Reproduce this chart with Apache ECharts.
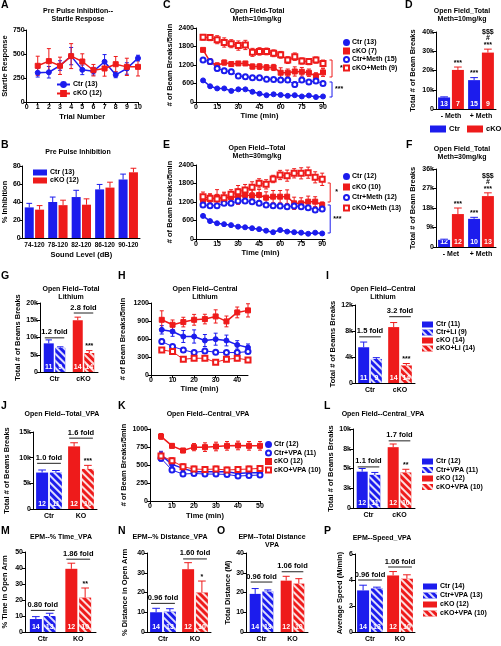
<!DOCTYPE html>
<html><head><meta charset="utf-8">
<script src="https://cdn.jsdelivr.net/npm/echarts@6/dist/echarts.min.js"></script>
<style>html,body{margin:0;padding:0;background:#fff}#c{width:501px;height:646px}</style>
</head><body><div id="c"></div>
<script>
// ---------------- DATA ----------------
// A
const A_trials = [1,2,3,4,5,6,7,8,9,10];
const A_ctr = [305,310,380,478,335,321,419,283,349,457];
const A_ctr_err = [45,60,50,90,50,40,75,30,60,30];
const A_cko = [377,426,377,478,422,331,349,394,366,366];
const A_cko_err = [100,130,90,130,80,60,80,80,90,95];
// B
const B_levels = ['74-120','78-120','82-120','86-120','90-120'];
const B_ctr = [34,40,45.5,54,65];
const B_ctr_err = [4.5,5.5,7.5,5.5,6];
const B_cko = [31.5,36.5,37,56,73];
const B_cko_err = [4.5,5.5,6.5,6,4.5];
// C
const C_time = [5,10,15,20,25,30,35,40,45,50,55,60,65,70,75,80,85,90];
const C_ctr = [700,510,440,440,360,410,410,330,270,220,250,230,200,220,180,210,160,180];
const C_ctr_err = [35,30,30,25,25,25,25,25,20,20,20,20,20,20,20,20,20,20];
const C_cko = [1690,1310,1180,1280,1230,1250,1250,1150,1150,1120,1120,950,950,990,980,950,840,960];
const C_cko_err = [40,90,90,80,70,60,60,80,90,90,100,160,120,150,140,120,110,130];
const C_ctrm = [1360,1310,1090,1010,980,840,820,790,790,740,730,710,710,570,710,650,680,600];
const C_ctrm_err = [80,70,80,80,80,70,60,60,50,50,50,50,60,80,50,60,60,60];
const C_ckom = [2100,2090,2020,1930,1890,1830,1850,1610,1640,1640,1580,1530,1360,1470,1330,1310,1360,1250];
const C_ckom_err = [90,100,130,150,130,150,150,130,120,110,110,110,110,120,100,100,100,110];
// D
const D_groups = ['- Meth','+ Meth'];
const D_ctr = [6000,15000];
const D_ctr_err = [300,1300];
const D_cko = [20300,29300];
const D_cko_err = [1500,1800];
const D_ctr_n = ['13','15'];
const D_cko_n = ['7','9'];
const D_ctr_sig = ['','***'];
const D_cko_sig = ['***','$$$\n#\n***'];
// E
const E_time = [5,10,15,20,25,30,35,40,45,50,55,60,65,70,75,80,85,90];
const E_ctr = [750,580,510,480,450,400,380,350,320,270,220,290,240,220,205,170,205,180];
const E_ctr_err = [40,35,30,30,30,30,30,30,30,30,30,30,30,30,30,30,30,30];
const E_cko = [1265,1286,1351,1319,1351,1373,1427,1405,1427,1340,1373,1373,1373,1157,1157,1211,1211,1103];
const E_cko_err = [100,150,250,200,180,250,220,200,180,190,200,200,220,200,180,180,160,100];
const E_ctrm = [1103,1081,1081,1157,1157,1232,1232,1211,1157,1103,1081,1070,1049,1070,1049,1016,940,973];
const E_ctrm_err = [60,60,60,60,60,60,60,60,60,60,60,60,60,60,60,60,80,80];
const E_ckom = [1373,1319,1297,1340,1449,1535,1589,1676,1805,1773,1946,2076,2054,2130,2130,2151,2000,1935];
const E_ckom_err = [150,150,150,150,150,200,180,180,150,150,120,150,180,150,180,180,180,200];
// F
const F_groups = ['- Met','+ Meth'];
const F_ctr = [3300,13000];
const F_ctr_err = [300,700];
const F_cko = [15200,23500];
const F_cko_err = [2800,1500];
const F_ctr_n = ['12','10'];
const F_cko_n = ['12','13'];
const F_ctr_sig = ['','***'];
const F_cko_sig = ['***','$$$\n#\n***'];
// G
const G_groups = ['Ctr','cKO'];
const G_base = [8300,15000];
const G_base_err = [1000,900];
const G_drug = [7000,5500];
const G_drug_err = [300,700];
const G_base_n = ['11','14'];
const G_drug_n = ['9','14'];
const G_sig = ['','***'];
const G_fold = ['1.2 fold','2.8 fold'];
const G_fold_y = [9900,17100];
// H
const H_time = [5,10,15,20,25,30,35,40,45];
const H_ctr = [753,725,642,642,575,597,575,502,457];
const H_ctr_err = [70,80,100,110,100,100,90,70,60];
const H_ctrli = [558,474,418,374,402,380,374,374,390];
const H_ctrli_err = [40,30,30,25,25,25,25,25,25];
const H_cko = [920,837,882,920,932,976,893,1043,1077];
const H_cko_err = [150,80,80,90,80,110,90,90,110];
const H_ckoli = [418,390,262,279,279,212,262,279,251];
const H_ckoli_err = [40,40,25,30,30,30,30,40,40];
// I
const I_groups = ['Ctr','cKO'];
const I_base = [5500,8600];
const I_base_err = [800,700];
const I_drug = [3700,2700];
const I_drug_err = [200,300];
const I_base_n = ['11','14'];
const I_drug_n = ['9','14'];
const I_sig = ['','***'];
const I_fold = ['1.5 fold','3.2 fold'];
const I_fold_y = [7100,10200];
// J
const J_groups = ['Ctr','KO'];
const J_base = [7100,12200];
const J_base_err = [500,700];
const J_drug = [7100,7800];
const J_drug_err = [400,700];
const J_base_n = ['12','12'];
const J_drug_n = ['11','10'];
const J_sig = ['','***'];
const J_fold = ['1.0 fold','1.6 fold'];
const J_fold_y = [8900,13800];
// K
const K_time = [5,10,15,20,25,30,35,40,45,50];
const K_ctr = [640,509,453,406,406,406,406,383,392,392];
const K_ctr_err = [50,40,30,30,30,30,30,30,30,30];
const K_ctrv = [593,430,374,383,374,374,369,346,355,360];
const K_ctrv_err = [40,30,25,25,25,25,25,30,30,30];
const K_cko = [897,766,701,748,748,757,766,771,766,766];
const K_cko_err = [40,30,30,50,60,60,60,60,60,60];
const K_ckov = [626,560,476,444,439,444,430,439,444,453];
const K_ckov_err = [50,40,40,40,40,40,40,40,40,40];
// L
const L_groups = ['Ctr','cKO'];
const L_base = [4600,7700];
const L_base_err = [400,400];
const L_drug = [4200,4500];
const L_drug_err = [300,400];
const L_base_n = ['12','12'];
const L_drug_n = ['11','10'];
const L_sig = ['','**'];
const L_fold = ['1.1 fold','1.7 fold'];
const L_fold_y = [5200,8500];
// M
const M_groups = ['Ctr','KO'];
const M_base = [8.1,39.5];
const M_base_err = [1.5,3.5];
const M_drug = [10.0,21.5];
const M_drug_err = [1.7,6];
const M_base_n = ['14','12'];
const M_drug_n = ['13','10'];
const M_sig = ['','**'];
const M_fold = ['0.80 fold','1.86 fold'];
const M_fold_y = [13.5,45.5];
// N
const N_groups = ['Ctr','KO'];
const N_base = [10,31.8];
const N_base_err = [2,3.3];
const N_drug = [10.3,20];
const N_drug_err = [1.5,5.8];
const N_base_n = ['14','12'];
const N_drug_n = ['13','10'];
const N_sig = ['','*'];
const N_fold = ['0.96 fold','1.60 fold'];
const N_fold_y = [14.5,37];
// O
const O_groups = ['Ctr','KO'];
const O_base = [19.3,26];
const O_base_err = [2.7,2.2];
const O_drug = [20.5,24.5];
const O_drug_err = [0.8,2.5];
const O_base_n = ['14','12'];
const O_drug_n = ['13','10'];
const O_fold = ['0.96 fold','1.06 fold'];
const O_fold_y = [25.3,30.5];
// P
const P_groups = ['Ctr','KO'];
const P_base = [3.2,4.35];
const P_base_err = [0.4,0.3];
const P_drug = [3.35,4.1];
const P_drug_err = [0.1,0.3];
const P_base_n = ['14','12'];
const P_drug_n = ['13','10'];
const P_fold = ['0.96 fold','1.06 fold'];
const P_fold_y = [4.0,5.0];

// ---------------- STYLE / HELPERS ----------------
const FONT = '"Liberation Sans", Arial, sans-serif';
const BLUE = '#1c1ced', RED = '#ee1b1b';
const sfx = k => '\u200b'.repeat(k);
const STRIPE = {symbol:'rect', symbolSize:1, color:'rgba(255,255,255,0.85)', dashArrayX:[1,0], dashArrayY:[1.4,2.6], rotation:Math.PI/4};
const grids=[], xAxes=[], yAxes=[], series=[], legends=[], graphics=[];
const TXT = {color:'#000', fontSize:7, fontWeight:'bold', fontFamily:FONT};
const NAME = {color:'#000', fontSize:7.5, fontWeight:'bold', fontFamily:FONT};
const LINE = {show:true, onZero:false, lineStyle:{color:'#000', width:1}};
const TICK = {show:true, length:3, lineStyle:{color:'#000', width:1}};
const plain = v => String(v);

function addGrid(box, xa, ya){ const i=grids.length; grids.push(Object.assign({containLabel:false}, box)); xAxes.push(Object.assign({gridIndex:i}, xa)); yAxes.push(Object.assign({gridIndex:i}, ya)); return i; }
function vAxis(min,max,interval,name,nameGap,fmt,hideMax){
  return {type:'value',min,max,interval,name,nameLocation:'middle',nameGap,nameTextStyle:NAME,
    axisLine:LINE,axisTick:TICK,axisLabel:Object.assign({},TXT,{margin:2,formatter:fmt||plain,showMaxLabel:!hideMax}),splitLine:{show:false}};
}
function cAxis(data,name,nameGap,fs){
  return {type:'category',data,name,nameLocation:'middle',nameGap,nameTextStyle:NAME,axisLine:LINE,axisTick:{show:false},
    axisLabel:Object.assign({},TXT,{margin:4,interval:0,fontSize:fs||7})};
}
const kfmt = v => v===0 ? '0' : (v/1000)+'k';
const krnd = v => v===0 ? '0' : Math.round(v/1000)+'k';

function text(x,y,t,opt){ graphics.push({type:'text',x,y,silent:true,style:Object.assign({text:t,fill:'#000',fontSize:7,fontWeight:'bold',fontFamily:FONT,align:'center',verticalAlign:'top',lineHeight:8},opt||{})}); }
function letter(x,y,t){ text(x,y,t,{fontSize:10.5,align:'left'}); }

function errLineRender(color){
  return function(p, api){
    const x=api.value(0), y=api.value(1), e=api.value(2);
    const t=api.coord([x,y+e]), b=api.coord([x,y-e]); const w=2;
    const st={stroke:color,lineWidth:1};
    return {type:'group',children:[
      {type:'line',shape:{x1:t[0],y1:t[1],x2:b[0],y2:b[1]},style:st},
      {type:'line',shape:{x1:t[0]-w,y1:t[1],x2:t[0]+w,y2:t[1]},style:st},
      {type:'line',shape:{x1:b[0]-w,y1:b[1],x2:b[0]+w,y2:b[1]},style:st}]};
  };
}
function lineSeries(gi,name,times,vals,errs,color,symbol,width){
  series.push({type:'custom',xAxisIndex:gi,yAxisIndex:gi,silent:true,clip:false,z:2,
    data:times.map((t,i)=>[t,vals[i],errs[i]]),renderItem:errLineRender(color)});
  series.push({type:'line',name,xAxisIndex:gi,yAxisIndex:gi,data:times.map((t,i)=>[t,vals[i]]),
    symbol,symbolSize:5,showSymbol:true,itemStyle:{color,borderColor:color,borderWidth:1},
    lineStyle:{color,width:width||1},z:3,silent:true});
}
function barErrSeries(gi,barW,items){
  series.push({type:'custom',xAxisIndex:gi,yAxisIndex:gi,silent:true,clip:false,z:5,
    data:items.map(it=>[it.ci,it.v,it.e,it.slot]),
    renderItem:function(p,api){
      const it=items[p.dataIndex];
      const ci=api.value(0),v=api.value(1),e=api.value(2),slot=api.value(3);
      const off=slot*barW*1.15/2;
      const p0=api.coord([ci,v]), p1=api.coord([ci,v+e]); const x=p0[0]+off;
      const st={stroke:it.color,lineWidth:1}; const ch=[];
      ch.push({type:'line',shape:{x1:x,y1:p0[1],x2:x,y2:p1[1]},style:st});
      ch.push({type:'line',shape:{x1:x-barW*0.32,y1:p1[1],x2:x+barW*0.32,y2:p1[1]},style:st});
      if(it.sig) ch.push({type:'text',x:x,y:p1[1]-1,style:{text:it.sig,align:'center',verticalAlign:'bottom',fill:'#000',fontSize:7,fontWeight:'bold',fontFamily:FONT,lineHeight:6.5}});
      return {type:'group',children:ch};
    }});
}
function foldSeries(gi,barW,labels,ys){
  series.push({type:'custom',xAxisIndex:gi,yAxisIndex:gi,silent:true,clip:false,z:5,
    data:ys.map((y,i)=>[i,y]),
    renderItem:function(p,api){
      const pt=api.coord([api.value(0),api.value(1)]); const half=barW*1.15/2+barW/2-1;
      return {type:'group',children:[
        {type:'line',shape:{x1:pt[0]-half,y1:pt[1],x2:pt[0]+half,y2:pt[1]},style:{stroke:'#222',lineWidth:1}},
        {type:'text',x:pt[0],y:pt[1]-1.5,style:{text:labels[p.dataIndex],align:'center',verticalAlign:'bottom',fill:'#000',fontSize:7.5,fontWeight:'bold',fontFamily:FONT}}]};
    }});
}
function nLabel(arr){ return {show:true,position:'insideBottom',distance:1,color:'#fff',fontSize:7,fontWeight:'bold',fontFamily:FONT,formatter:p=>arr[p.dataIndex]}; }
function pairBars(gi,barW,names,v1,e1,v2,e2,n1,n2,s1,s2){
  series.push({type:'bar',name:names[0],xAxisIndex:gi,yAxisIndex:gi,barWidth:barW,barGap:'15%',data:v1,itemStyle:{color:BLUE},label:n1?nLabel(n1):{show:false},z:2,silent:true});
  series.push({type:'bar',name:names[1],xAxisIndex:gi,yAxisIndex:gi,barWidth:barW,barGap:'15%',data:v2,itemStyle:{color:RED},label:n2?nLabel(n2):{show:false},z:2,silent:true});
  const items=[];
  v1.forEach((v,i)=>items.push({ci:i,v,e:e1[i],slot:-1,color:BLUE,sig:s1?s1[i]:''}));
  v2.forEach((v,i)=>items.push({ci:i,v,e:e2[i],slot:1,color:RED,sig:s2?s2[i]:''}));
  barErrSeries(gi,barW,items);
}
function quadBars(gi,barW,names,base,baseErr,drug,drugErr,nBase,nDrug,sig,folds,foldY){
  const cols=[BLUE,RED];
  const mk=(name,vals,n,ci,striped)=>({type:'bar',name,xAxisIndex:gi,yAxisIndex:gi,stack:(striped?'d':'s')+gi,
    barWidth:barW,barGap:'15%',data:vals.map((v,i)=>i===ci?v:'-'),
    itemStyle:striped?{color:cols[ci],decal:STRIPE}:{color:cols[ci]},
    label:{show:true,position:'insideBottom',distance:1,color:'#fff',fontSize:7,fontWeight:'bold',fontFamily:FONT,formatter:()=>n[ci]},z:2,silent:true});
  series.push(mk(names[0],base,nBase,0,false));
  series.push(mk(names[1],drug,nDrug,0,true));
  series.push(mk(names[2],base,nBase,1,false));
  series.push(mk(names[3],drug,nDrug,1,true));
  const items=[];
  base.forEach((v,i)=>items.push({ci:i,v,e:baseErr[i],slot:-1,color:cols[i],sig:''}));
  drug.forEach((v,i)=>items.push({ci:i,v,e:drugErr[i],slot:1,color:cols[i],sig:sig?sig[i]:''}));
  barErrSeries(gi,barW,items);
  if(folds) foldSeries(gi,barW,folds,foldY);
}
function bracketSeries(gi,xv,list){
  series.push({type:'custom',xAxisIndex:gi,yAxisIndex:gi,silent:true,clip:false,z:5,
    data:list.map(b=>[xv,b.y1,b.y2]),
    renderItem:function(p,api){
      const b=list[p.dataIndex];
      const a=api.coord([api.value(0),api.value(1)]), c=api.coord([api.value(0),api.value(2)]); const x=a[0];
      return {type:'group',children:[
        {type:'polyline',shape:{points:[[x-2.5,a[1]],[x,a[1]],[x,c[1]],[x-2.5,c[1]]]},style:{stroke:b.color,fill:null,lineWidth:1}},
        {type:'text',x:x+b.dx,y:(a[1]+c[1])/2,style:{text:b.text,align:'left',verticalAlign:'middle',fill:'#000',fontSize:7,fontWeight:'bold',fontFamily:FONT}}]};
    }});
}
function legend(opt, names){
  legends.push(Object.assign({orient:'vertical',padding:0,selectedMode:false,itemGap:1,
    textStyle:Object.assign({},TXT,{padding:[0,0,0,-2]}),data:names},opt));
}

// ---------------- PANELS ----------------
// A
let g = addGrid({left:25,top:30,width:113,height:72},
  vAxis(0,10,1,'Trial Number',11), vAxis(0,750,250,'Startle Response',13));
lineSeries(g,'Ctr (13)'+sfx(1),A_trials,A_ctr,A_ctr_err,BLUE,'circle',1.5);
lineSeries(g,'cKO (12)'+sfx(1),A_trials,A_cko,A_cko_err,RED,'rect',1.5);
legend({left:56,top:81,itemWidth:13,itemHeight:6,itemGap:2},['Ctr (13)'+sfx(1),'cKO (12)'+sfx(1)]);
letter(1,1,'A'); text(78,7,'Pre Pulse Inhibition--\nStartle Respose');

// B
g = addGrid({left:22,top:166,width:118,height:72},
  cAxis(B_levels,'Sound Level (dB)',13,6.5), vAxis(0,80,20,'% Inhibition',12));
pairBars(g,9,['Ctr (13)'+sfx(2),'cKO (12)'+sfx(2)],B_ctr,B_ctr_err,B_cko,B_cko_err);
legend({left:33,top:169,itemWidth:14,itemHeight:6,itemGap:1},[{name:'Ctr (13)'+sfx(2),icon:'rect'},{name:'cKO (12)'+sfx(2),icon:'rect'}]);
letter(1,141,'B'); text(78,148,'Pre Pulse Inhibition');

// C
g = addGrid({left:196,top:28,width:127,height:74},
  vAxis(0,90,15,'Time (min)',10), vAxis(0,2400,600,'# of Beam Breaks/5min',22));
lineSeries(g,'Ctr (13)'+sfx(3),C_time,C_ctr,C_ctr_err,BLUE,'circle',1.5);
lineSeries(g,'cKO (7)'+sfx(3),C_time,C_cko,C_cko_err,RED,'rect',1.5);
lineSeries(g,'Ctr+Meth (15)'+sfx(3),C_time,C_ctrm,C_ctrm_err,BLUE,'emptyCircle',1);
lineSeries(g,'cKO+Meth (9)'+sfx(3),C_time,C_ckom,C_ckom_err,RED,'emptyRect',1);
bracketSeries(g,96.4,[{y1:1362,y2:811,color:RED,text:'*',dx:8},{y1:649,y2:162,color:BLUE,text:'***',dx:3}]);
legend({left:343,top:39,itemWidth:5,itemHeight:5,itemGap:1.5},[
  {name:'Ctr (13)'+sfx(3),icon:'circle'},{name:'cKO (7)'+sfx(3),icon:'rect'},
  {name:'Ctr+Meth (15)'+sfx(3),icon:'emptyCircle'},{name:'cKO+Meth (9)'+sfx(3),icon:'emptyRect'}]);
letter(163,1,'C'); text(257,7,'Open Field-Total\nMeth=10mg/kg');

// D
g = addGrid({left:436,top:32,width:60,height:77},
  cAxis(D_groups,'',0), vAxis(0,40000,10000,'Total # of Beam Breaks',19,kfmt));
pairBars(g,12,['Ctr'+sfx(4),'cKO'+sfx(4)],D_ctr,D_ctr_err,D_cko,D_cko_err,D_ctr_n,D_cko_n,D_ctr_sig,D_cko_sig);
legend({orient:'horizontal',left:430,top:125,itemWidth:16,itemHeight:7,textStyle:Object.assign({},TXT,{fontSize:7.5,padding:[0,0,0,-2]})},[{name:'Ctr'+sfx(4),icon:'rect'}]);
legend({orient:'horizontal',left:467,top:125,itemWidth:16,itemHeight:7,textStyle:Object.assign({},TXT,{fontSize:7.5,padding:[0,0,0,-2]})},[{name:'cKO'+sfx(4),icon:'rect'}]);
letter(405,1,'D'); text(462,7,'Open Field_Total\nMeth=10mg/kg');

// E
g = addGrid({left:196,top:165,width:129,height:74},
  vAxis(0,92,15,'Time (min)',10,null,true), vAxis(0,2400,600,'# of Beam Breaks/5min',22));
lineSeries(g,'Ctr (12)'+sfx(5),E_time,E_ctr,E_ctr_err,BLUE,'circle',1.5);
lineSeries(g,'cKO (10)'+sfx(5),E_time,E_cko,E_cko_err,RED,'rect',1.5);
lineSeries(g,'Ctr+Meth (12)'+sfx(5),E_time,E_ctrm,E_ctrm_err,BLUE,'emptyCircle',1);
lineSeries(g,'cKO+Meth (13)'+sfx(5),E_time,E_ckom,E_ckom_err,RED,'emptyRect',1);
bracketSeries(g,95.7,[{y1:1816,y2:1200,color:RED,text:'*',dx:5},{y1:1103,y2:195,color:BLUE,text:'***',dx:3}]);
legend({left:343,top:173,itemWidth:5,itemHeight:5,itemGap:3.5},[
  {name:'Ctr (12)'+sfx(5),icon:'circle'},{name:'cKO (10)'+sfx(5),icon:'rect'},
  {name:'Ctr+Meth (12)'+sfx(5),icon:'emptyCircle'},{name:'cKO+Meth (13)'+sfx(5),icon:'emptyRect'}]);
letter(163,141,'E'); text(257,144,'Open Field--Total\nMeth=30mg/kg');

// F
g = addGrid({left:436,top:169,width:60,height:78},
  cAxis(F_groups,'',0), vAxis(0,36000,9000,'Total # of Beam Breaks',19,kfmt));
pairBars(g,12,['Ctr'+sfx(6),'cKO'+sfx(6)],F_ctr,F_ctr_err,F_cko,F_cko_err,F_ctr_n,F_cko_n,F_ctr_sig,F_cko_sig);
letter(406,141,'F'); text(462,145,'Open Field_Total\nMeth=30mg/kg');

// G
g = addGrid({left:40,top:303,width:58,height:69},
  cAxis(G_groups,'',0), vAxis(0,20000,5000,'Total # of Beams Breaks',17,kfmt));
quadBars(g,10,['Ctr'+sfx(7),'Ctr+Li'+sfx(7),'cKO'+sfx(7),'cKO+Li'+sfx(7)],G_base,G_base_err,G_drug,G_drug_err,G_base_n,G_drug_n,G_sig,G_fold,G_fold_y);
letter(1,272,'G'); text(71,285,'Open Field--Total\nLithium');

// H
g = addGrid({left:151,top:303,width:97,height:72},
  vAxis(0,45,10,'Time (min)',9,null,true), vAxis(0,1200,300,'# of Beam Breaks/5min',24));
lineSeries(g,'Ctr (11)'+sfx(8),H_time,H_ctr,H_ctr_err,BLUE,'circle',1.5);
lineSeries(g,'Ctr+Li (9)'+sfx(8),H_time,H_ctrli,H_ctrli_err,BLUE,'emptyCircle',1);
lineSeries(g,'cKO (14)'+sfx(8),H_time,H_cko,H_cko_err,RED,'rect',1.5);
lineSeries(g,'cKO+Li (14)'+sfx(8),H_time,H_ckoli,H_ckoli_err,RED,'emptyRect',1);
letter(118,272,'H'); text(205,285,'Open Field--Central\nLithium');

// I
g = addGrid({left:355,top:305,width:60,height:78},
  cAxis(I_groups,'',0), vAxis(0,12000,4000,'Total # of Beams Breaks',16,kfmt));
quadBars(g,11,['Ctr (11)'+sfx(9),'Ctr+Li (9)'+sfx(9),'cKO (14)'+sfx(9),'cKO+Li (14)'+sfx(9)],I_base,I_base_err,I_drug,I_drug_err,I_base_n,I_drug_n,I_sig,I_fold,I_fold_y);
legend({left:422,top:321,itemWidth:11,itemHeight:6,itemGap:1},[
  {name:'Ctr (11)'+sfx(9),icon:'rect'},{name:'Ctr+Li (9)'+sfx(9),icon:'rect'},{name:'cKO (14)'+sfx(9),icon:'rect'},{name:'cKO+Li (14)'+sfx(9),icon:'rect'}]);
letter(326,272,'I'); text(383,285,'Open Field--Central\nLithium');

// J
g = addGrid({left:33,top:432,width:64,height:77},
  cAxis(J_groups,'',0), vAxis(0,15000,5000,'Total # of Beams Breaks',22,kfmt));
quadBars(g,12,['Ctr'+sfx(10),'Ctr+VPA'+sfx(10),'KO'+sfx(10),'KO+VPA'+sfx(10)],J_base,J_base_err,J_drug,J_drug_err,J_base_n,J_drug_n,J_sig,J_fold,J_fold_y);
letter(1,402,'J'); text(62,410,'Open Field--Total_VPA');

// K
g = addGrid({left:150,top:429,width:110,height:72},
  vAxis(0,50,10,'Time (min)',11), vAxis(0,1000,250,'# of Beam Breaks/5min',22));
lineSeries(g,'Ctr (12)'+sfx(11),K_time,K_ctr,K_ctr_err,BLUE,'circle',1.5);
lineSeries(g,'Ctr+VPA (11)'+sfx(11),K_time,K_ctrv,K_ctrv_err,BLUE,'emptyCircle',1);
lineSeries(g,'cKO (12)'+sfx(11),K_time,K_cko,K_cko_err,RED,'rect',1.5);
lineSeries(g,'cKO+VPA (10)'+sfx(11),K_time,K_ckov,K_ckov_err,RED,'emptyRect',1);
legend({left:265,top:441,itemWidth:5,itemHeight:5,itemGap:1.5},[
  {name:'Ctr (12)'+sfx(11),icon:'circle'},{name:'Ctr+VPA (11)'+sfx(11),icon:'emptyCircle'},
  {name:'cKO (12)'+sfx(11),icon:'rect'},{name:'cKO+VPA (10)'+sfx(11),icon:'emptyRect'}]);
letter(118,402,'K'); text(208,410,'Open Field--Central_VPA');

// L
g = addGrid({left:353,top:429,width:62,height:79},
  cAxis(L_groups,'',0), vAxis(0,10000,2500,'Total # of Beams Breaks',15,krnd));
quadBars(g,11,['Ctr (12)'+sfx(12),'Ctr+VPA (11)'+sfx(12),'cKO (12)'+sfx(12),'cKO+VPA (10)'+sfx(12)],L_base,L_base_err,L_drug,L_drug_err,L_base_n,L_drug_n,L_sig,L_fold,L_fold_y);
legend({left:422,top:458,itemWidth:11,itemHeight:6,itemGap:1.5},[
  {name:'Ctr (12)'+sfx(12),icon:'rect'},{name:'Ctr+VPA (11)'+sfx(12),icon:'rect'},{name:'cKO (12)'+sfx(12),icon:'rect'},{name:'cKO+VPA (10)'+sfx(12),icon:'rect'}]);
letter(324,402,'L'); text(383,410,'Open Field--Central_VPA');

// M
g = addGrid({left:24,top:552,width:72,height:80},
  cAxis(M_groups,'',0), vAxis(0,50,10,'% Time in Open Arm',16));
quadBars(g,12,['Ctr'+sfx(13),'Ctr+VPA'+sfx(13),'KO'+sfx(13),'KO+VPA'+sfx(13)],M_base,M_base_err,M_drug,M_drug_err,M_base_n,M_drug_n,M_sig,M_fold,M_fold_y);
letter(1,527,'M'); text(61,533,'EPM--% Time_VPA');

// N
g = addGrid({left:147,top:553,width:64,height:79},
  cAxis(N_groups,'',0), vAxis(0,40,10,'% Distance in Open Arm',18));
quadBars(g,12,['Ctr'+sfx(14),'Ctr+VPA'+sfx(14),'KO'+sfx(14),'KO+VPA'+sfx(14)],N_base,N_base_err,N_drug,N_drug_err,N_base_n,N_drug_n,N_sig,N_fold,N_fold_y);
letter(118,527,'N'); text(170,533,'EPM--% Distance_VPA');

// O
g = addGrid({left:246,top:553,width:62,height:79},
  cAxis(O_groups,'',0), vAxis(0,40,10,'Total Distance (M)',9));
quadBars(g,11,['Ctr'+sfx(15),'Ctr+VPA'+sfx(15),'KO'+sfx(15),'KO+VPA'+sfx(15)],O_base,O_base_err,O_drug,O_drug_err,O_base_n,O_drug_n,null,O_fold,O_fold_y);
letter(217,527,'O'); text(272,533,'EPM--Total Distance\nVPA');

// P
g = addGrid({left:355,top:554,width:60,height:78},
  cAxis(P_groups,'',0), vAxis(0,6,2,'Average Speed (M/min)',11));
quadBars(g,12,['Ctr (14)'+sfx(16),'Ctr+VPA (13)'+sfx(16),'cKO (12)'+sfx(16),'cKO+VPA (10)'+sfx(16)],P_base,P_base_err,P_drug,P_drug_err,P_base_n,P_drug_n,null,P_fold,P_fold_y);
legend({left:423,top:583,itemWidth:14,itemHeight:6,itemGap:2},[
  {name:'Ctr (14)'+sfx(16),icon:'rect'},{name:'Ctr+VPA (13)'+sfx(16),icon:'rect'},{name:'cKO (12)'+sfx(16),icon:'rect'},{name:'cKO+VPA (10)'+sfx(16),icon:'rect'}]);
letter(324,527,'P'); text(382,534,'EPM--Speed_VPA');

const chart = echarts.init(document.getElementById('c'), null, {renderer:'canvas'});
chart.setOption({animation:false, textStyle:{fontFamily:FONT}, grid:grids, xAxis:xAxes, yAxis:yAxes, series, legend:legends, graphic:{elements:graphics}});
</script></body></html>
